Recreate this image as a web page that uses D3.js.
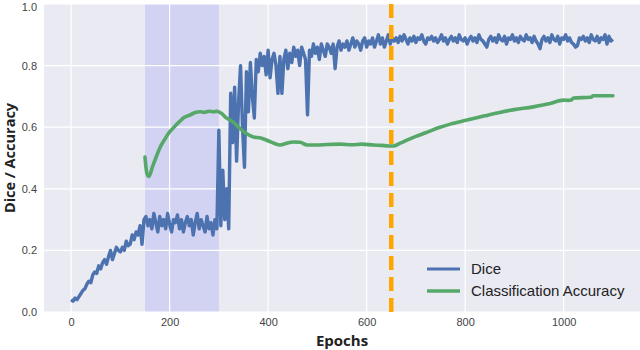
<!DOCTYPE html>
<html><head><meta charset="utf-8">
<script src="https://cdn.jsdelivr.net/npm/d3@7"></script>
<style>body{margin:0;background:#fff;} svg{display:block;}</style>
</head><body>
<svg id="chart" width="640" height="350"></svg>
<script>
// ---- data ----
const diceStep = 4; // epochs between stored Dice samples, starting at epoch 0
const diceValues = [
 0.04,0.035,0.045,0.04,0.05,0.06,0.07,0.075,0.09,0.1,0.095,0.12,0.13,0.125,0.15,0.14,0.16,0.17,0.155,0.18,
 0.2,0.17,0.19,0.21,0.2,0.195,0.21,0.2,0.23,0.215,0.22,0.25,0.235,0.26,0.25,0.28,0.22,0.3,
 0.31,0.28,0.3,0.27,0.32,0.29,0.26,0.31,0.28,0.3,0.27,0.32,0.285,0.26,0.3,0.29,0.315,0.27,0.3,0.26,
 0.29,0.31,0.28,0.3,0.25,0.29,0.32,0.27,0.3,0.28,0.26,0.31,0.27,0.29,0.25,0.3,0.27,
 0.59,0.28,0.46,0.3,0.4,0.27,0.71,0.55,0.73,0.49,0.68,0.8,0.6,0.47,0.78,0.65,0.81,0.7,0.63,0.82,
 0.78,0.84,0.8,0.83,0.77,0.85,0.76,0.82,0.84,0.8,0.71,0.83,0.71,0.82,0.85,0.79,0.84,0.81,0.86,0.83,
 0.85,0.8,0.86,0.84,0.82,0.64,0.85,0.83,0.87,0.84,0.86,0.82,0.87,0.85,0.83,0.87,0.86,0.84,0.87,0.79,
 0.86,0.88,0.85,0.87,0.86,0.88,0.85,0.87,0.89,0.86,0.88,0.87,0.85,0.88,0.89,0.86,0.88,0.87,0.89,0.86,
 0.88,0.9,0.87,0.89,0.86,0.88,0.9,0.87,0.89,0.88,
 0.89,0.875,0.895,0.88,0.9,0.885,0.87,0.89,0.88,0.895,0.875,0.89,0.885,0.9,0.88,0.87,0.89,0.885,0.895,0.88,
 0.89,0.875,0.885,0.9,0.88,0.89,0.87,0.885,0.895,0.88,0.89,0.875,0.9,0.885,0.88,0.89,0.87,0.885,0.895,0.88,
 0.89,0.875,0.9,0.885,0.88,0.87,0.86,0.885,0.895,0.88,0.89,0.875,0.9,0.885,0.88,0.895,0.87,0.89,0.885,0.9,
 0.88,0.89,0.875,0.895,0.885,0.88,0.9,0.885,0.89,0.875,0.895,0.88,0.87,0.855,0.885,0.895,0.88,0.89,0.875,0.9,
 0.885,0.88,0.895,0.87,0.89,0.885,0.9,0.88,0.89,0.875,0.87,0.86,0.865,0.89,0.885,0.895,0.88,0.89,0.875,0.9,
 0.885,0.88,0.895,0.875,0.89,0.885,0.9,0.87,0.895,0.88,0.885
];
const accEpochs = [150,152,155,158,165,172,181,190,200,207,220,230,242,252,262,270,280,290,296,305,315,329,340,355,370,385,400,412,424,438,451,465,479,500,520,546,570,590,614,630,645,654,668,682,700,720,749,770,804,840,870,900,938,970,1000,1010,1015,1020,1055,1060,1100];
const accValues = [0.503,0.47,0.445,0.44,0.47,0.5,0.536,0.56,0.585,0.597,0.618,0.632,0.64,0.648,0.65,0.648,0.652,0.65,0.652,0.645,0.63,0.617,0.6,0.58,0.568,0.565,0.556,0.548,0.542,0.548,0.552,0.551,0.542,0.542,0.544,0.545,0.543,0.545,0.542,0.541,0.539,0.539,0.548,0.558,0.57,0.582,0.6,0.61,0.623,0.637,0.648,0.657,0.666,0.676,0.688,0.687,0.688,0.695,0.697,0.702,0.702];
const spanRange = [150, 300];
const markerEpoch = 650;
const xTicks = [0,200,400,600,800,1000];
const yTicks = [0,0.2,0.4,0.6,0.8,1.0];
const seriesNames = ["Dice", "Classification Accuracy"];
const seriesColors = ["#4C72B0", "#55A868"];

// ---- layout ----
const svg = d3.select("#chart");
const L = 44, R = 640, T = 4, B = 312;
const x = d3.scaleLinear().domain([-55, 1155]).range([L, R]);
const y = d3.scaleLinear().domain([0, 1]).range([B, T]);

svg.append("rect").attr("x", L).attr("y", T).attr("width", R - L).attr("height", B - T).attr("fill", "#EAEAF2");

svg.append("rect")
  .attr("x", x(spanRange[0])).attr("y", T)
  .attr("width", x(spanRange[1]) - x(spanRange[0])).attr("height", B - T)
  .attr("fill", "#0000ff").attr("fill-opacity", 0.1);

// grid
const grid = svg.append("g").attr("stroke", "#fff").attr("stroke-width", 1.2);
grid.selectAll("line.gx").data(xTicks).join("line")
  .attr("x1", d => x(d)).attr("x2", d => x(d)).attr("y1", T).attr("y2", B);
grid.selectAll("line.gy").data(yTicks).join("line")
  .attr("x1", L).attr("x2", R).attr("y1", d => y(d)).attr("y2", d => y(d));

// axes (labels only, seaborn darkgrid style)
const xAxis = svg.append("g").attr("transform", `translate(0,${B})`)
  .call(d3.axisBottom(x).tickValues(xTicks).tickSize(0).tickPadding(6).tickFormat(d3.format("d")));
const yAxis = svg.append("g").attr("transform", `translate(${L},0)`)
  .call(d3.axisLeft(y).tickValues(yTicks).tickSize(0).tickPadding(7).tickFormat(d3.format(".1f")));
[xAxis, yAxis].forEach(a => {
  a.select(".domain").remove();
  a.selectAll("text").attr("font-family", "'Liberation Sans', Arial, sans-serif").attr("font-size", 11).attr("fill", "#444");
});
yAxis.selectAll("text").filter(d => d === 1).attr("dy", "0.6em");

// lines
const diceData = diceValues.map((v, i) => [i * diceStep, v]);
const accData = accEpochs.map((e, i) => [e, accValues[i]]);
const line = d3.line().x(d => x(d[0])).y(d => y(d[1]));

svg.append("path").datum(diceData).attr("d", line)
  .attr("fill", "none").attr("stroke", seriesColors[0]).attr("stroke-width", 3.4).attr("stroke-linejoin", "round");
svg.append("path").datum(accData).attr("d", line.curve(d3.curveMonotoneX))
  .attr("fill", "none").attr("stroke", seriesColors[1]).attr("stroke-width", 3.6).attr("stroke-linecap", "round").attr("stroke-linejoin", "round");

svg.append("line")
  .attr("x1", x(markerEpoch)).attr("x2", x(markerEpoch)).attr("y1", T).attr("y2", B)
  .attr("stroke", "#FFA500").attr("stroke-width", 4.5).attr("stroke-dasharray", "14,7");

// axis titles
svg.append("text").attr("x", (L + R) / 2).attr("y", 346).attr("text-anchor", "middle")
  .attr("font-family", "'Open Sans', sans-serif").attr("font-weight", 700).attr("font-size", 15).attr("fill", "#222")
  .text("Epochs");
svg.append("text").attr("transform", `translate(15,${(T + B) / 2}) rotate(-90)`).attr("text-anchor", "middle")
  .attr("font-family", "'Open Sans', sans-serif").attr("font-weight", 700).attr("font-size", 14.5).attr("fill", "#222")
  .text("Dice / Accuracy");

// legend
const lg = svg.append("g");
seriesNames.forEach((n, i) => {
  const yy = 269 + i * 22;
  lg.append("line").attr("x1", 427).attr("x2", 460).attr("y1", yy).attr("y2", yy)
    .attr("stroke", seriesColors[i]).attr("stroke-width", i === 0 ? 2.8 : 3.6);
  lg.append("text").attr("x", 471).attr("y", yy).attr("dy", "0.35em")
    .attr("font-family", "'Liberation Sans', Arial, sans-serif").attr("font-size", 15).attr("fill", "#222").text(n);
});
</script>
</body></html>
